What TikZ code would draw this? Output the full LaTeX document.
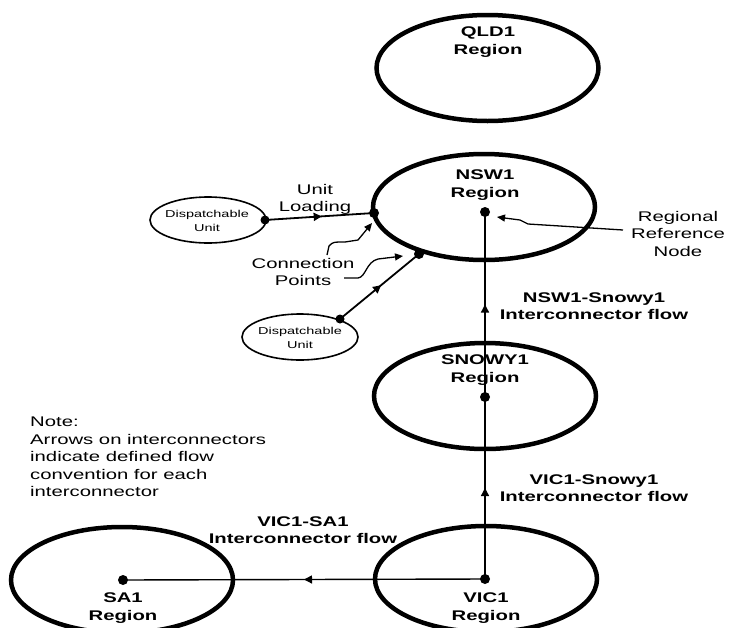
\documentclass[tikz,border=0pt]{standalone}
\usepackage{fontspec}
\setmainfont[FakeStretch=1.45]{Liberation Sans}
\usetikzlibrary{shapes.geometric,arrows.meta,decorations.markings}
\begin{document}
\begin{tikzpicture}[x=1pt,y=-1pt,
  region/.style={draw,ellipse,line width=4.5pt,inner sep=0pt,minimum width=222pt,minimum height=106pt},
  dunit/.style={draw,ellipse,line width=1.6pt,inner sep=0pt,minimum width=116pt,minimum height=46pt},
  bigdot/.style={circle,fill,inner sep=0pt,minimum size=10pt},
  smalldot/.style={circle,fill,inner sep=0pt,minimum size=9pt},
  rlabel/.style={font=\fontsize{14}{18}\selectfont\bfseries,align=center,inner sep=0pt},
  iclabel/.style={font=\fontsize{14}{17}\selectfont\bfseries,align=center,inner sep=0pt},
  txt/.style={font=\fontsize{14}{17.5}\selectfont,align=center,inner sep=0pt},
  dtxt/.style={font=\fontsize{10}{14}\selectfont,align=center,inner sep=0pt},
  tip/.style={-{Triangle[length=8pt,width=7pt]}},
  icline/.style={line width=1.4pt,postaction={decorate},decoration={markings,mark=at position 0.5 with {\arrow{Triangle[length=8pt,width=8pt]}}}},
  duline/.style={line width=1.8pt,postaction={decorate},decoration={markings,mark=at position 0.52 with {\arrow{Triangle[length=8pt,width=8pt]}}}},
  thin/.style={line width=1.3pt}
]
\fill[white] (0,0) rectangle (731,627);
\useasboundingbox (0,0) rectangle (731,627);

% regions
\node[region] (qld) at (487.5,68) {};
\node[region] (nsw) at (484,207) {};
\node[region] (snowy) at (485,396) {};
\node[region] (vic) at (486,579) {};
\node[region] (sa) at (122,580) {};

\node[rlabel] (qldl) at (488,42.5) {QLD1\\Region};
\node[rlabel] (nswl) at (485,185.5) {NSW1\\Region};
\node[rlabel] (snowyl) at (485,370.5) {SNOWY1\\Region};
\node[rlabel] (vicl) at (486,608) {VIC1\\Region};
\node[rlabel] (sal) at (123,608) {SA1\\Region};

% regional reference nodes
\node[bigdot] (nswdot) at (485,212) {};
\node[bigdot] (snowydot) at (485,397) {};
\node[bigdot] (vicdot) at (485,579) {};
\node[bigdot] (sadot) at (123,580) {};

% interconnectors
\draw[icline] (snowydot.center) -- (nswdot.center);
\draw[icline] (vicdot.center) -- (snowydot.center);
\draw[icline] (vicdot.center) -- (sadot.center);

\node[iclabel] (nswsn) at (594,306.5) {NSW1-Snowy1\\Interconnector flow};
\node[iclabel] (vicsn) at (594,488) {VIC1-Snowy1\\Interconnector flow};
\node[iclabel] (vicsa) at (303,530) {VIC1-SA1\\Interconnector flow};

% dispatchable units
\node[dunit] (du1) at (208,220) {};
\node[dtxt] (du1l) at (207,221) {Dispatchable\\Unit};
\node[dunit] (du2) at (300,337) {};
\node[dtxt] (du2l) at (300,338) {Dispatchable\\Unit};
\node[smalldot] (du1dot) at (265,220) {};
\node[smalldot] (du2dot) at (340,319) {};
\node[bigdot] (cp1) at (374,213) {};
\node[bigdot] (cp2) at (419,254) {};
\draw[duline] (du1dot.center) -- (cp1.center);
\draw[duline] (du2dot.center) -- (cp2.center);

\node[txt] (unitload) at (315,199.5) {Unit\\Loading};
\node[txt] (connpts) at (303,272) {Connection\\Points};
\node[txt] (rrn) at (678,233.5) {Regional\\Reference\\Node};
\node[txt,align=left,anchor=north west] (note) at (30,417) {Note:\\Arrows on interconnectors\\indicate defined flow\\convention for each\\interconnector};

% pointer arrows
\coordinate (a1s) at (327,255);
\coordinate (a1e) at (372,223);
\draw[thin,tip] (a1s) -- (329,246) .. controls (333,242) .. (345,242) -- (358,240) -- (a1e);
\coordinate (a2s) at (344,278);
\coordinate (a2e) at (403,256);
\draw[thin,tip] (a2s) -- (358,278) .. controls (366,277) and (366,262) .. (378,259) -- (a2e);
\coordinate (a3s) at (623,230);
\coordinate (a3e) at (497,217);
\draw[thin,tip] (a3s) -- (560,226) -- (528,224) -- (520,220) -- (a3e);
\end{tikzpicture}
\end{document}
